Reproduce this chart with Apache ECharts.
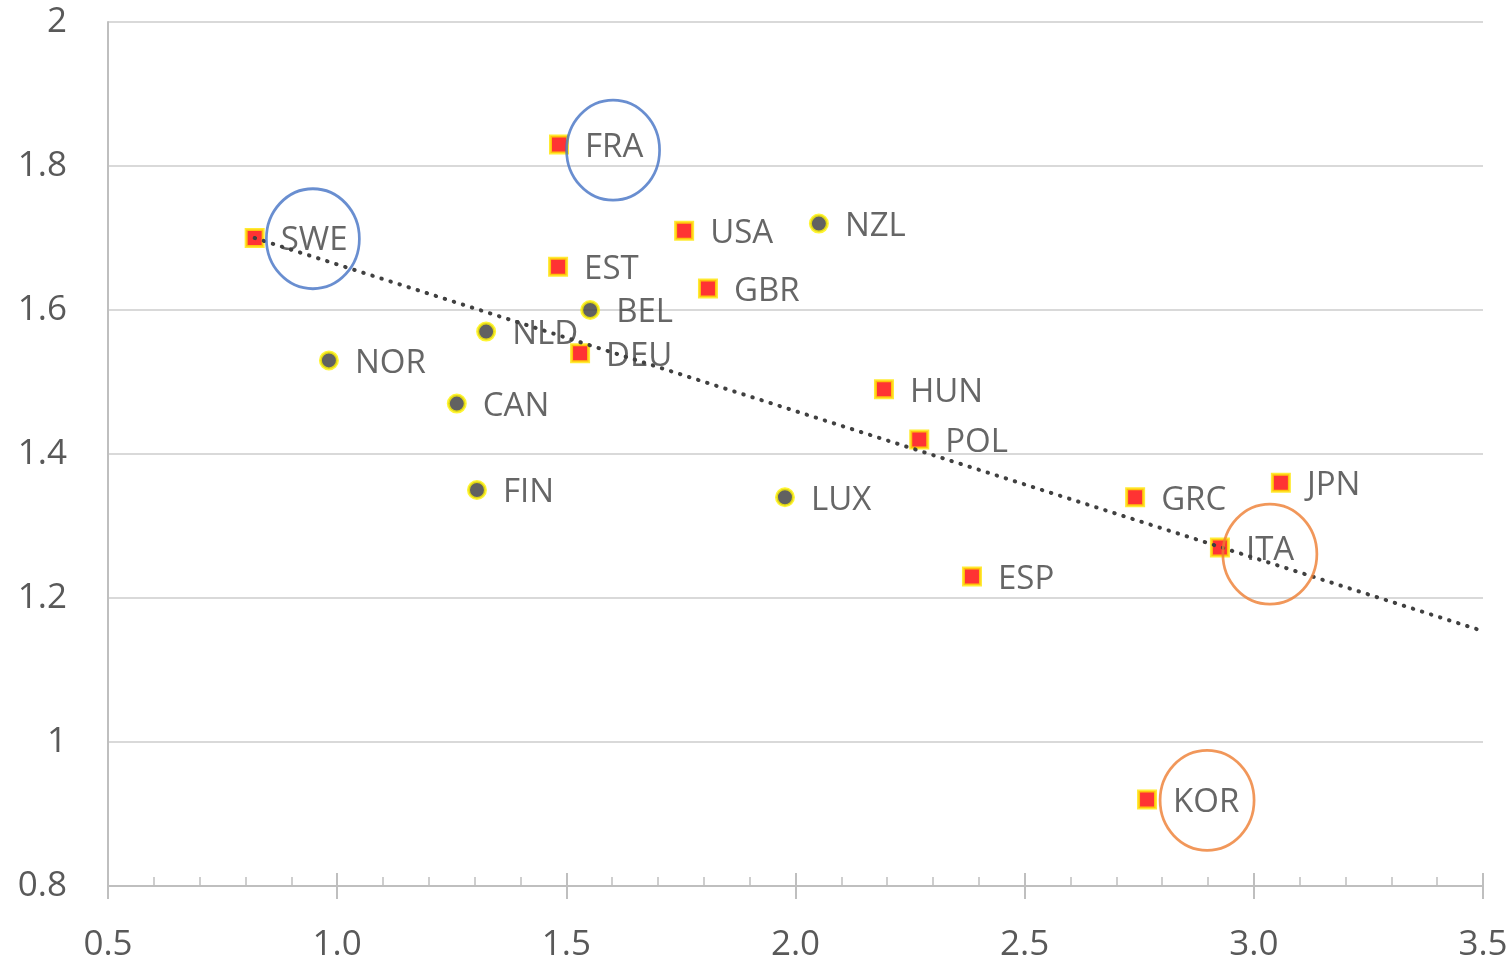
<!DOCTYPE html>
<html>
<head>
<meta charset="utf-8">
<script src="https://cdn.jsdelivr.net/npm/echarts@6/dist/echarts.min.js"></script>
<style>html,body{margin:0;padding:0;background:#fff;}#c{width:1511px;height:963px;}</style>
</head>
<body>
<div id="c"></div>
<script>
// Countries drawn with red squares
const squareNames = ['SWE','FRA','USA','EST','GBR','DEU','HUN','POL','GRC','JPN','ITA','ESP','KOR'];
const squareX     = [0.82, 1.484, 1.757, 1.482, 1.809, 1.530, 2.193, 2.270, 2.741, 3.059, 2.926, 2.385, 2.767];
const squareY     = [1.70, 1.83, 1.71, 1.66, 1.63, 1.54, 1.49, 1.42, 1.34, 1.36, 1.27, 1.23, 0.92];
// Countries drawn with dark circles
const circleNames = ['NZL','BEL','NLD','NOR','CAN','FIN','LUX'];
const circleX     = [2.051, 1.552, 1.325, 0.982, 1.261, 1.305, 1.977];
const circleY     = [1.72, 1.60, 1.57, 1.53, 1.47, 1.35, 1.34];
// Trend line endpoints
const trendX = [0.82, 3.5];
const trendY = [1.70, 1.154];
// Highlight ellipses (centres)
const blueX = [0.947, 1.602];
const blueY = [1.699, 1.822];
const orangeX = [3.035, 2.898];
const orangeY = [1.261, 0.919];

const FONT = "'Open Sans', 'Noto Sans', sans-serif";
const zip = (xs, ys, ns) => xs.map((x, i) => ns ? [x, ys[i], ns[i]] : [x, ys[i]]);

const labelCfg = {
  show: true, position: 'right', distance: 16, offset: [0, 3],
  formatter: p => p.value[2],
  fontFamily: FONT, fontSize: 33, color: '#404040'
};

const chart = echarts.init(document.getElementById('c'));
chart.setOption({
  animation: false,
  backgroundColor: '#ffffff',
  grid: { left: 108, right: 28, top: 22, bottom: 76 },
  xAxis: [{
    type: 'value', min: 0.5, max: 3.5, interval: 0.5,
    axisLine: { show: true, lineStyle: { color: '#BFBFBF', width: 2 } },
    axisTick: { show: true, inside: true, length: 13, lineStyle: { color: '#BFBFBF', width: 2 } },
    minorTick: { show: true, splitNumber: 5, length: 9, lineStyle: { color: '#BFBFBF', width: 1.5 } },
    axisLabel: { formatter: v => v.toFixed(1), fontFamily: FONT, fontSize: 35, color: '#595959', margin: 42 },
    splitLine: { show: false }
  }, {
    type: 'value', min: 0.5, max: 3.5, interval: 0.5, position: 'bottom',
    axisLine: { show: false },
    axisTick: { show: true, inside: false, length: 13, lineStyle: { color: '#BFBFBF', width: 2 } },
    axisLabel: { show: false },
    splitLine: { show: false }
  }],
  yAxis: {
    type: 'value', min: 0.8, max: 2, interval: 0.2,
    axisLine: { show: true, lineStyle: { color: '#BFBFBF', width: 2 } },
    axisTick: { show: false },
    axisLabel: { formatter: v => (Math.round(v * 10) / 10).toString(), fontFamily: FONT, fontSize: 35, color: '#595959', margin: 41 },
    splitLine: { show: true, lineStyle: { color: '#D9D9D9', width: 2 } }
  },
  series: [
    {
      type: 'line', data: zip(trendX, trendY), showSymbol: false, symbol: 'none',
      lineStyle: { color: '#404040', width: 4, type: [0.5, 9], cap: 'round' }, z: 3, silent: true
    },
    {
      type: 'scatter', data: zip(squareX, squareY, squareNames), symbol: 'rect', symbolSize: 17,
      itemStyle: { color: '#FF0000', borderColor: '#FFE600', borderWidth: 3 },
      label: labelCfg, z: 2
    },
    {
      type: 'scatter', data: zip(circleX, circleY, circleNames), symbol: 'circle', symbolSize: 17,
      itemStyle: { color: '#3A3A3A', borderColor: '#FFF200', borderWidth: 3 },
      label: labelCfg, z: 2
    },
    {
      type: 'scatter', data: zip(blueX, blueY), symbol: 'circle', symbolSize: [93, 100],
      itemStyle: { color: 'rgba(0,0,0,0)', borderColor: '#4472C4', borderWidth: 2.8 }, z: 4, silent: true
    },
    {
      type: 'scatter', data: zip(orangeX, orangeY), symbol: 'circle', symbolSize: [94, 100],
      itemStyle: { color: 'rgba(0,0,0,0)', borderColor: '#ED7D31', borderWidth: 2.8 }, z: 4, silent: true
    }
  ]
});
</script>
</body>
</html>
